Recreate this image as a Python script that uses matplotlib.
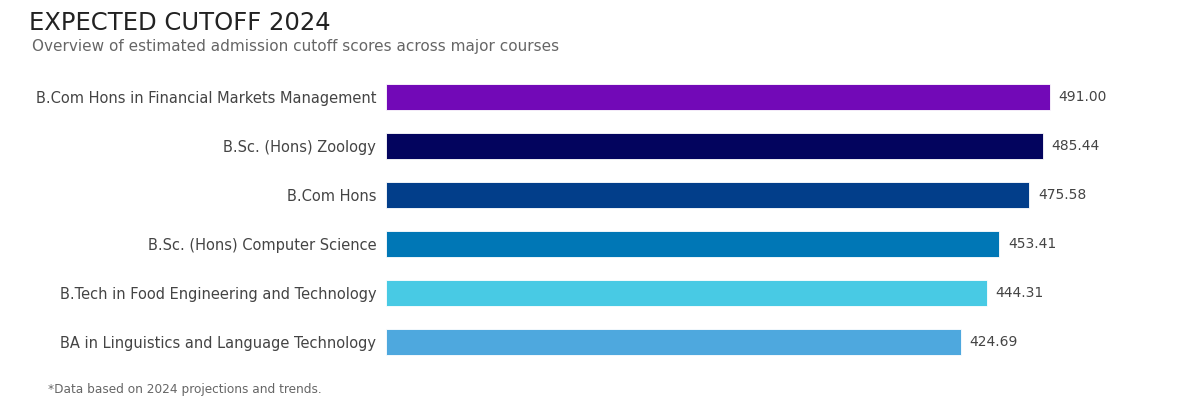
import matplotlib
matplotlib.use("Agg")
import matplotlib.pyplot as plt

courses = [
    "B.Com Hons in Financial Markets Management",
    "B.Sc. (Hons) Zoology",
    "B.Com Hons",
    "B.Sc. (Hons) Computer Science",
    "B.Tech in Food Engineering and Technology",
    "BA in Linguistics and Language Technology",
]
cutoffs = [491.00, 485.44, 475.58, 453.41, 444.31, 424.69]
colors = ["#7209b7", "#03045e", "#023e8a", "#0077b6", "#48cae4", "#4ea8de"]

plt.rcParams['font.family'] = ['DejaVu Sans']

fig = plt.figure(figsize=(12, 4), dpi=100)
ax = fig.add_axes([386/1200, (400-366.5)/400, 732/1200, 294/400])

y = list(range(len(courses)))
ax.barh(y, cutoffs, height=0.55, color=colors, edgecolor="white", linewidth=0.6)
ax.set_ylim(len(courses)-0.5, -0.5)
ax.set_xlim(0, 541)
ax.set_yticks(y)
ax.set_yticklabels(courses, fontsize=10.5, color="#444444")
ax.tick_params(axis='y', length=0, pad=7)
ax.set_xticks([])
for s in ax.spines.values():
    s.set_visible(False)

for yi, v in zip(y, cutoffs):
    ax.annotate(f"{v:.2f}", xy=(v, yi), xytext=(6, 0), textcoords="offset points",
                va="center", ha="left", fontsize=10, color="#444444")

fig.text(29/1200, 1-23/400, "EXPECTED CUTOFF 2024", fontsize=17.5, color="#222222",
         va="center", ha="left")
fig.text(32/1200, 1-47/400, "Overview of estimated admission cutoff scores across major courses",
         fontsize=11, color="#666666", va="center", ha="left")
fig.text(48/1200, 1-389/400, "*Data based on 2024 projections and trends.",
         fontsize=8.7, color="#666666", va="center", ha="left")

fig.savefig("out.png", dpi=100, facecolor="white")
